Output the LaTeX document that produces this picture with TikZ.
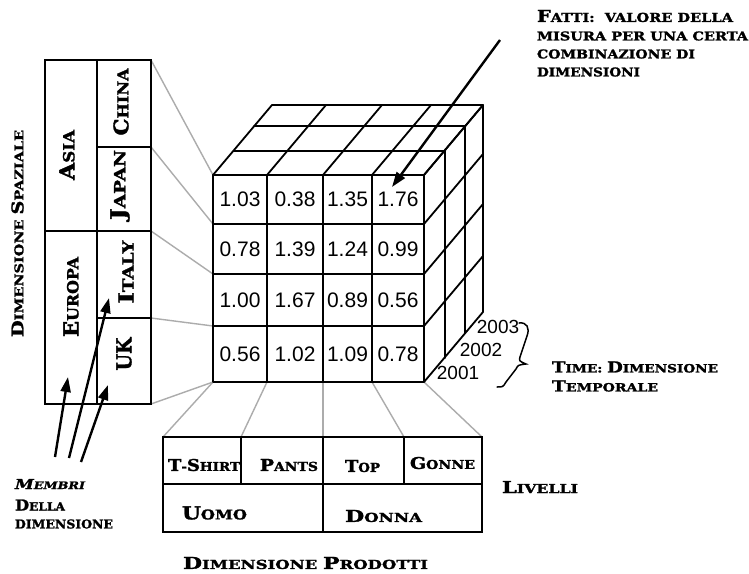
\documentclass[tikz,border=0pt]{standalone}
\usepackage{fontspec}
\usepackage{graphicx}
\usetikzlibrary{arrows.meta,calc}
\newfontfamily\cpfontfam{DejaVu Serif}[UprightFont={* Bold}, ItalicFont={* Bold Italic}, FakeBold=1.6, UprightFeatures={FakeBold=1.6}, ItalicFeatures={FakeBold=1.6}]
\newfontfamily\numfont{Liberation Sans}
\definecolor{guidegray}{RGB}{172,172,172}
\newcommand\cpf{\cpfontfam\upshape\fontsize{9}{9}\selectfont}
\newcommand\cpfi{\cpfontfam\itshape\fontsize{9}{9}\selectfont}
\newcommand\Bg[1]{{\fontsize{12}{12}\selectfont #1}}
\newcommand\cpt[3]{\resizebox{#1pt}{#2pt}{\cpf #3}}
\newcommand\cpti[3]{\resizebox{#1pt}{#2pt}{\cpfi #3}}
\tikzset{
  tbl/.style={line width=2.3pt, line cap=rect},
  cubeline/.style={line width=1.8pt, line cap=round, line join=round},
  guide/.style={line width=1.4pt, draw=guidegray},
  ptr/.style={line width=2.4pt, -{Triangle[length=15pt,width=10pt]}},
  lbl/.style={inner sep=0pt, outer sep=0pt},
  num/.style={inner sep=0pt, font=\numfont\fontsize{21}{21}\selectfont},
  yr/.style={inner sep=0pt, font=\numfont\fontsize{19}{19}\selectfont},
}
\begin{document}
\begin{tikzpicture}[x=1pt,y=-1pt]
\useasboundingbox (0,0) rectangle (749,573);
\fill[white] (0,0) rectangle (749,573);

% cube front grid
\foreach \x [count=\i] in {213,267,323,372,424}{
  \foreach \y [count=\j] in {175,224,274,326,382}{
    \coordinate (F\i\j) at (\x,\y);
  }
}
\coordinate (D1) at (21,-24);
\coordinate (D2) at (41,-49);
\coordinate (D3) at (59,-70);

% left table grid
\foreach \y [count=\j] in {60,147,231,318,404}{
  \coordinate (LL\j) at (45,\y);
  \coordinate (LM\j) at (97,\y);
  \coordinate (LR\j) at (151,\y);
}
% bottom table grid
\foreach \x [count=\i] in {163,241,323,404,482}{
  \coordinate (BT\i) at (\x,437);
  \coordinate (BM\i) at (\x,484);
  \coordinate (BB\i) at (\x,532);
}

% guide lines
\foreach \j in {1,...,5} \draw[guide] (LR\j) -- (F1\j);
\foreach \i in {1,...,5} \draw[guide] (BT\i) -- (F\i5);

% left table
\draw[tbl] (LL1) rectangle (LR5);
\draw[tbl] (LM1) -- (LM5);
\draw[tbl] (LL3) -- (LR3);
\draw[tbl] (LM2) -- (LR2);
\draw[tbl] (LM4) -- (LR4);

% bottom table
\draw[tbl] (BT1) rectangle (BB5);
\draw[tbl] (BM1) -- (BM5);
\draw[tbl] (BT3) -- (BB3);
\draw[tbl] (BT2) -- (BM2);
\draw[tbl] (BT4) -- (BM4);

% cube
\draw[cubeline] (F11) rectangle (F55);
\foreach \i in {2,3,4}{
  \draw[cubeline] (F\i1) -- (F\i5);
  \draw[cubeline] (F1\i) -- (F5\i);
}
\foreach \d in {D1,D2,D3}{
  \draw[cubeline] ($(F11)+(\d)$) -- ($(F51)+(\d)$) -- ($(F55)+(\d)$);
}
\foreach \i in {1,...,5}{
  \draw[cubeline] (F\i1) -- ($(F\i1)+(D3)$);
  \draw[cubeline] (F5\i) -- ($(F5\i)+(D3)$);
}

% values
\foreach \v [count=\k from 0] in {1.03,0.38,1.35,1.76,0.78,1.39,1.24,0.99,1.00,1.67,0.89,0.56,0.56,1.02,1.09,0.78}{
  \pgfmathtruncatemacro\ci{mod(\k,4)+1}
  \pgfmathtruncatemacro\ri{div(\k,4)+1}
  \pgfmathtruncatemacro\cn{\ci+1}
  \pgfmathtruncatemacro\rn{\ri+1}
  \node[num] (v\ri\ci) at ($(F\ci\ri)!.5!(F\cn\rn)$) {\v};
}

% years
\node[yr] (y2001) at (458,373) {2001};
\node[yr] (y2002) at (481,350) {2002};
\node[yr] (y2003) at (498,327) {2003};
\draw[line width=1.5pt, line cap=round] (519,323) .. controls (527,322) and (530,328) .. (527,336)
  -- (520,357) .. controls (519,361) .. (526,364)
  .. controls (518,365) .. (516,369) -- (506,382) .. controls (503,387) .. (497,387);

% fact arrow
\coordinate (factTail) at (500,40);
\coordinate (factTip) at (392,187);
\draw[ptr] (factTail) -- (factTip);

% member arrows
\coordinate (mt1) at (55,457); \coordinate (mh1) at (68,377);
\coordinate (mt2) at (69,458); \coordinate (mh2) at (109,298);
\coordinate (mt3) at (81,462); \coordinate (mh3) at (108,385);
\foreach \k in {1,2,3} \draw[ptr] (mt\k) -- (mh\k);

% texts: facts
\node[lbl,anchor=west] (fatti1) at (537,16) {\cpt{196}{12}{\Bg{F}ATTI:\ \ VALORE DELLA}};
\node[lbl,anchor=west] (fatti2) at (537,36) {\cpt{211}{9}{MISURA PER UNA CERTA}};
\node[lbl,anchor=west] (fatti3) at (537,54) {\cpt{158}{9}{COMBINAZIONE DI}};
\node[lbl,anchor=west] (fatti4) at (537,72) {\cpt{103}{9}{DIMENSIONI}};

% time
\node[lbl,anchor=west] (time1) at (552,367) {\cpt{166}{11}{\Bg{T}IME: \Bg{D}IMENSIONE}};
\node[lbl,anchor=west] (time2) at (552,386) {\cpt{106}{11}{\Bg{T}EMPORALE}};

% livelli & prodotti
\node[lbl] (livelli) at (540,487) {\cpt{76}{12}{\Bg{L}IVELLI}};
\node[lbl] (prodotti) at (305.5,563) {\cpt{245}{12}{\Bg{D}IMENSIONE \Bg{P}RODOTTI}};

% bottom table labels
\node[lbl] (tshirt) at (204,465) {\cpt{72}{12}{\Bg{T}-\Bg{S}HIRT}};
\node[lbl] (pants) at (289,465) {\cpt{58}{12}{\Bg{P}ANTS}};
\node[lbl] (top) at (362.5,466) {\cpt{35}{12}{\Bg{T}OP}};
\node[lbl] (gonne) at (442.5,463) {\cpt{65}{12}{\Bg{G}ONNE}};
\node[lbl] (uomo) at (214.5,513) {\cpt{65}{13}{\Bg{U}OMO}};
\node[lbl] (donna) at (383.5,516) {\cpt{77}{12}{\Bg{D}ONNA}};

% left table labels
\node[lbl,rotate=90] (asia) at (67,155) {\cpt{50}{15}{\Bg{A}SIA}};
\node[lbl,rotate=90] (europa) at (71,297) {\cpt{80}{15}{\Bg{E}UROPA}};
\node[lbl,rotate=90] (china) at (121,102) {\cpt{67}{15}{\Bg{C}HINA}};
\node[lbl,rotate=90] (japan) at (120,185) {\cpt{70}{15}{\Bg{J}APAN}};
\node[lbl,rotate=90] (italy) at (126,272) {\cpt{63}{15}{\Bg{I}TALY}};
\node[lbl,rotate=90] (uk) at (124,354) {\cpt{33}{15}{\Bg{U}\Bg{K}}};
\node[lbl,rotate=90] (spaziale) at (17.5,233.5) {\cpt{207}{12}{\Bg{D}IMENSIONE \Bg{S}PAZIALE}};

% members
\node[lbl,anchor=west] (membri) at (15,484) {\cpti{70}{10}{\Bg{M}EMBRI}};
\node[lbl,anchor=west] (della) at (15,505) {\cpt{50}{11}{\Bg{D}ELLA}};
\node[lbl,anchor=west] (dimensione) at (15,524) {\cpt{98}{9}{DIMENSIONE}};
\end{tikzpicture}
\end{document}
